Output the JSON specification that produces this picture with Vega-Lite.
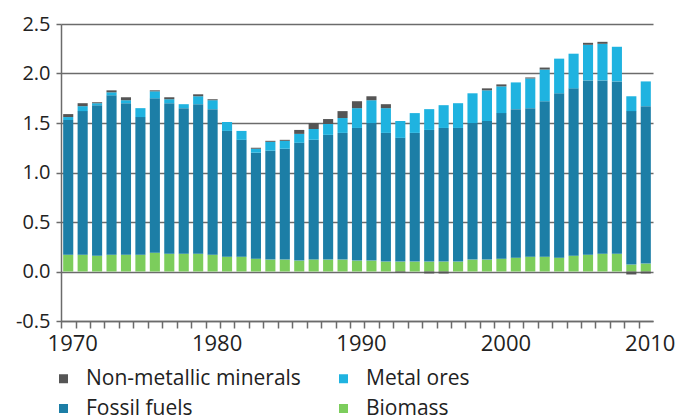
{
  "$schema": "https://vega.github.io/schema/vega-lite/v6.json",
  "width": 592,
  "height": 297,
  "autosize": "none",
  "padding": {"left": 61, "top": 24, "right": 24, "bottom": 99},
  "background": "white",
  "config": {
    "view": {"stroke": null},
    "font": "Open Sans"
  },
  "datasets": {
    "flows": [
      {"year":1970,"type":"Biomass","value":0.17},{"year":1970,"type":"Fossil fuels","value":1.36},{"year":1970,"type":"Metal ores","value":0.03},{"year":1970,"type":"Non-metallic minerals","value":0.03},
      {"year":1971,"type":"Biomass","value":0.17},{"year":1971,"type":"Fossil fuels","value":1.45},{"year":1971,"type":"Metal ores","value":0.05},{"year":1971,"type":"Non-metallic minerals","value":0.03},
      {"year":1972,"type":"Biomass","value":0.16},{"year":1972,"type":"Fossil fuels","value":1.52},{"year":1972,"type":"Metal ores","value":0.02},{"year":1972,"type":"Non-metallic minerals","value":0.01},
      {"year":1973,"type":"Biomass","value":0.17},{"year":1973,"type":"Fossil fuels","value":1.61},{"year":1973,"type":"Metal ores","value":0.03},{"year":1973,"type":"Non-metallic minerals","value":0.02},
      {"year":1974,"type":"Biomass","value":0.17},{"year":1974,"type":"Fossil fuels","value":1.53},{"year":1974,"type":"Metal ores","value":0.03},{"year":1974,"type":"Non-metallic minerals","value":0.03},
      {"year":1975,"type":"Biomass","value":0.17},{"year":1975,"type":"Fossil fuels","value":1.39},{"year":1975,"type":"Metal ores","value":0.09},{"year":1975,"type":"Non-metallic minerals","value":0.0},
      {"year":1976,"type":"Biomass","value":0.19},{"year":1976,"type":"Fossil fuels","value":1.56},{"year":1976,"type":"Metal ores","value":0.07},{"year":1976,"type":"Non-metallic minerals","value":0.01},
      {"year":1977,"type":"Biomass","value":0.18},{"year":1977,"type":"Fossil fuels","value":1.52},{"year":1977,"type":"Metal ores","value":0.04},{"year":1977,"type":"Non-metallic minerals","value":0.02},
      {"year":1978,"type":"Biomass","value":0.18},{"year":1978,"type":"Fossil fuels","value":1.47},{"year":1978,"type":"Metal ores","value":0.04},{"year":1978,"type":"Non-metallic minerals","value":0.0},
      {"year":1979,"type":"Biomass","value":0.18},{"year":1979,"type":"Fossil fuels","value":1.51},{"year":1979,"type":"Metal ores","value":0.08},{"year":1979,"type":"Non-metallic minerals","value":0.02},
      {"year":1980,"type":"Biomass","value":0.17},{"year":1980,"type":"Fossil fuels","value":1.47},{"year":1980,"type":"Metal ores","value":0.09},{"year":1980,"type":"Non-metallic minerals","value":0.01},
      {"year":1981,"type":"Biomass","value":0.15},{"year":1981,"type":"Fossil fuels","value":1.27},{"year":1981,"type":"Metal ores","value":0.09},{"year":1981,"type":"Non-metallic minerals","value":0.0},
      {"year":1982,"type":"Biomass","value":0.15},{"year":1982,"type":"Fossil fuels","value":1.18},{"year":1982,"type":"Metal ores","value":0.09},{"year":1982,"type":"Non-metallic minerals","value":0.0},
      {"year":1983,"type":"Biomass","value":0.13},{"year":1983,"type":"Fossil fuels","value":1.07},{"year":1983,"type":"Metal ores","value":0.04},{"year":1983,"type":"Non-metallic minerals","value":0.01},
      {"year":1984,"type":"Biomass","value":0.12},{"year":1984,"type":"Fossil fuels","value":1.10},{"year":1984,"type":"Metal ores","value":0.09},{"year":1984,"type":"Non-metallic minerals","value":0.01},
      {"year":1985,"type":"Biomass","value":0.12},{"year":1985,"type":"Fossil fuels","value":1.12},{"year":1985,"type":"Metal ores","value":0.08},{"year":1985,"type":"Non-metallic minerals","value":0.01},
      {"year":1986,"type":"Biomass","value":0.11},{"year":1986,"type":"Fossil fuels","value":1.19},{"year":1986,"type":"Metal ores","value":0.09},{"year":1986,"type":"Non-metallic minerals","value":0.04},
      {"year":1987,"type":"Biomass","value":0.12},{"year":1987,"type":"Fossil fuels","value":1.21},{"year":1987,"type":"Metal ores","value":0.11},{"year":1987,"type":"Non-metallic minerals","value":0.06},
      {"year":1988,"type":"Biomass","value":0.12},{"year":1988,"type":"Fossil fuels","value":1.26},{"year":1988,"type":"Metal ores","value":0.11},{"year":1988,"type":"Non-metallic minerals","value":0.05},
      {"year":1989,"type":"Biomass","value":0.12},{"year":1989,"type":"Fossil fuels","value":1.28},{"year":1989,"type":"Metal ores","value":0.15},{"year":1989,"type":"Non-metallic minerals","value":0.07},
      {"year":1990,"type":"Biomass","value":0.11},{"year":1990,"type":"Fossil fuels","value":1.34},{"year":1990,"type":"Metal ores","value":0.20},{"year":1990,"type":"Non-metallic minerals","value":0.07},
      {"year":1991,"type":"Biomass","value":0.11},{"year":1991,"type":"Fossil fuels","value":1.39},{"year":1991,"type":"Metal ores","value":0.23},{"year":1991,"type":"Non-metallic minerals","value":0.04},
      {"year":1992,"type":"Biomass","value":0.10},{"year":1992,"type":"Fossil fuels","value":1.30},{"year":1992,"type":"Metal ores","value":0.25},{"year":1992,"type":"Non-metallic minerals","value":0.04},
      {"year":1993,"type":"Biomass","value":0.10},{"year":1993,"type":"Fossil fuels","value":1.25},{"year":1993,"type":"Metal ores","value":0.17},{"year":1993,"type":"Non-metallic minerals","value":-0.01},
      {"year":1994,"type":"Biomass","value":0.10},{"year":1994,"type":"Fossil fuels","value":1.30},{"year":1994,"type":"Metal ores","value":0.20},{"year":1994,"type":"Non-metallic minerals","value":0.0},
      {"year":1995,"type":"Biomass","value":0.10},{"year":1995,"type":"Fossil fuels","value":1.33},{"year":1995,"type":"Metal ores","value":0.21},{"year":1995,"type":"Non-metallic minerals","value":-0.02},
      {"year":1996,"type":"Biomass","value":0.10},{"year":1996,"type":"Fossil fuels","value":1.35},{"year":1996,"type":"Metal ores","value":0.23},{"year":1996,"type":"Non-metallic minerals","value":-0.02},
      {"year":1997,"type":"Biomass","value":0.10},{"year":1997,"type":"Fossil fuels","value":1.35},{"year":1997,"type":"Metal ores","value":0.25},{"year":1997,"type":"Non-metallic minerals","value":0.0},
      {"year":1998,"type":"Biomass","value":0.12},{"year":1998,"type":"Fossil fuels","value":1.38},{"year":1998,"type":"Metal ores","value":0.30},{"year":1998,"type":"Non-metallic minerals","value":0.0},
      {"year":1999,"type":"Biomass","value":0.12},{"year":1999,"type":"Fossil fuels","value":1.40},{"year":1999,"type":"Metal ores","value":0.31},{"year":1999,"type":"Non-metallic minerals","value":0.02},
      {"year":2000,"type":"Biomass","value":0.13},{"year":2000,"type":"Fossil fuels","value":1.47},{"year":2000,"type":"Metal ores","value":0.27},{"year":2000,"type":"Non-metallic minerals","value":0.02},
      {"year":2001,"type":"Biomass","value":0.14},{"year":2001,"type":"Fossil fuels","value":1.50},{"year":2001,"type":"Metal ores","value":0.27},{"year":2001,"type":"Non-metallic minerals","value":0.0},
      {"year":2002,"type":"Biomass","value":0.15},{"year":2002,"type":"Fossil fuels","value":1.50},{"year":2002,"type":"Metal ores","value":0.30},{"year":2002,"type":"Non-metallic minerals","value":0.01},
      {"year":2003,"type":"Biomass","value":0.15},{"year":2003,"type":"Fossil fuels","value":1.57},{"year":2003,"type":"Metal ores","value":0.32},{"year":2003,"type":"Non-metallic minerals","value":0.02},
      {"year":2004,"type":"Biomass","value":0.14},{"year":2004,"type":"Fossil fuels","value":1.66},{"year":2004,"type":"Metal ores","value":0.35},{"year":2004,"type":"Non-metallic minerals","value":0.0},
      {"year":2005,"type":"Biomass","value":0.16},{"year":2005,"type":"Fossil fuels","value":1.69},{"year":2005,"type":"Metal ores","value":0.35},{"year":2005,"type":"Non-metallic minerals","value":0.0},
      {"year":2006,"type":"Biomass","value":0.17},{"year":2006,"type":"Fossil fuels","value":1.76},{"year":2006,"type":"Metal ores","value":0.36},{"year":2006,"type":"Non-metallic minerals","value":0.02},
      {"year":2007,"type":"Biomass","value":0.18},{"year":2007,"type":"Fossil fuels","value":1.75},{"year":2007,"type":"Metal ores","value":0.37},{"year":2007,"type":"Non-metallic minerals","value":0.02},
      {"year":2008,"type":"Biomass","value":0.18},{"year":2008,"type":"Fossil fuels","value":1.74},{"year":2008,"type":"Metal ores","value":0.35},{"year":2008,"type":"Non-metallic minerals","value":0.0},
      {"year":2009,"type":"Biomass","value":0.07},{"year":2009,"type":"Fossil fuels","value":1.55},{"year":2009,"type":"Metal ores","value":0.15},{"year":2009,"type":"Non-metallic minerals","value":-0.03},
      {"year":2010,"type":"Biomass","value":0.08},{"year":2010,"type":"Fossil fuels","value":1.59},{"year":2010,"type":"Metal ores","value":0.25},{"year":2010,"type":"Non-metallic minerals","value":-0.02}
    ]
  },
  "data": {"name": "flows"},
  "mark": {"type": "bar"},
  "encoding": {
    "x": {
      "field": "year",
      "type": "ordinal",
      "scale": {"paddingInner": 0.3, "paddingOuter": 0.15},
      "axis": {
        "title": null,
        "bandPosition": 0,
        "tickOffset": -2,
        "labelOffset": 6,
        "labelAngle": 0,
        "labelExpr": "datum.value % 10 == 0 ? datum.label : ''",
        "labelOverlap": false,
        "labelFont": "Open Sans",
        "labelFontSize": 22,
        "labelColor": "#222222",
        "labelPadding": 5,
        "tickSize": 7,
        "tickColor": "#6b6b6b",
        "tickWidth": 1.5,
        "domainColor": "#6b6b6b",
        "domainWidth": 1.5,
        "grid": false
      }
    },
    "y": {
      "field": "value",
      "type": "quantitative",
      "stack": "zero",
      "scale": {"domain": [-0.5, 2.5], "nice": false, "zero": false},
      "axis": {
        "title": null,
        "values": [-0.5, 0, 0.5, 1, 1.5, 2, 2.5],
        "labelExpr": "replace(format(datum.value, '.1f'), '\u2212', '-')",
        "labelFont": "Open Sans",
        "labelFontSize": 20,
        "labelColor": "#222222",
        "labelPadding": 6,
        "tickSize": 5,
        "tickColor": "#6b6b6b",
        "tickWidth": 1.5,
        "domainColor": "#6b6b6b",
        "domainWidth": 1.5,
        "grid": true,
        "gridColor": "#6b6b6b",
        "gridWidth": 1.5
      }
    },
    "color": {
      "field": "type",
      "type": "nominal",
      "scale": {
        "domain": ["Non-metallic minerals", "Fossil fuels", "Metal ores", "Biomass"],
        "range": ["#555555", "#1c7ea6", "#1fb3e0", "#7ccd5c"]
      },
      "legend": {
        "title": null,
        "orient": "none",
        "legendX": -8,
        "legendY": 344,
        "columns": 2,
        "columnPadding": 32,
        "rowPadding": 8,
        "symbolType": "square",
        "symbolSize": 81,
        "symbolStrokeWidth": 0,
        "labelOffset": 12,
        "labelFont": "Open Sans",
        "labelFontSize": 21,
        "labelColor": "#222222",
        "labelLimit": 400,
        "padding": 0
      }
    },
    "order": {"field": "type", "type": "nominal", "sort": "ascending"}
  }
}
